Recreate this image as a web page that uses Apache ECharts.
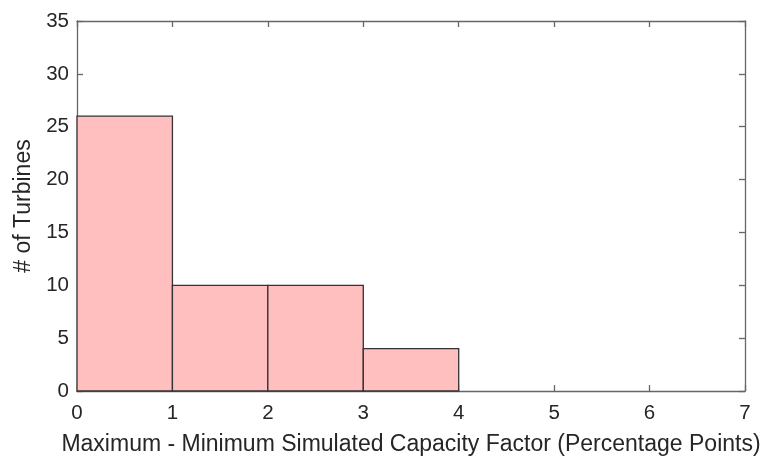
<!DOCTYPE html>
<html><head><meta charset="utf-8">
<script src="https://cdn.jsdelivr.net/npm/echarts@6/dist/echarts.min.js"></script>
<style>html,body{margin:0;padding:0;background:#fff}#c{width:777px;height:469px}</style>
</head><body><div id="c"></div>
<script>
const binStarts = [0, 1, 2, 3];
const binEnds = [1, 2, 3, 4];
const counts = [26, 10, 10, 4];
const xTicks = [0, 1, 2, 3, 4, 5, 6, 7];
const yTicks = [0, 5, 10, 15, 20, 25, 30, 35];

const chart = echarts.init(document.getElementById('c'));
const font = 'Liberation Sans, Arial, sans-serif';
const axisCol = '#666';
const data = counts.map((c, i) => [binStarts[i], binEnds[i], c]);
const baseAxis = {
  axisLine: {show: true, onZero: false, lineStyle: {color: axisCol, width: 1.3}},
  axisTick: {show: true, inside: true, length: 6, lineStyle: {color: axisCol, width: 1.3}},
  splitLine: {show: false}
};
chart.setOption({
  animation: false,
  grid: {left: 77, right: 32, top: 21, bottom: 78, containLabel: false},
  xAxis: [
    Object.assign({}, baseAxis, {type: 'value', min: xTicks[0], max: xTicks[xTicks.length-1], interval: 1,
      position: 'bottom',
      axisLabel: {color: '#262626', fontSize: 20.5, fontFamily: font, margin: 12},
      name: 'Maximum - Minimum Simulated Capacity Factor (Percentage Points)',
      nameLocation: 'middle', nameGap: 42,
      nameTextStyle: {color: '#262626', fontSize: 23, fontFamily: font}}),
    Object.assign({}, baseAxis, {type: 'value', min: 0, max: 7, interval: 1, position: 'top',
      axisLabel: {show: false}})
  ],
  yAxis: [
    Object.assign({}, baseAxis, {type: 'value', min: yTicks[0], max: yTicks[yTicks.length-1], interval: 5,
      position: 'left',
      axisLabel: {color: '#262626', fontSize: 20.5, fontFamily: font, margin: 8},
      name: '# of Turbines', nameLocation: 'middle', nameGap: 38, nameRotate: 90,
      nameTextStyle: {color: '#262626', fontSize: 23, fontFamily: font}}),
    Object.assign({}, baseAxis, {type: 'value', min: 0, max: 35, interval: 5, position: 'right',
      axisLabel: {show: false}})
  ],
  series: [{
    type: 'custom',
    xAxisIndex: 0, yAxisIndex: 0,
    data: data,
    encode: {x: [0, 1], y: 2},
    renderItem: function (params, api) {
      const p0 = api.coord([api.value(0), api.value(2)]);
      const p1 = api.coord([api.value(1), 0]);
      return {
        type: 'rect',
        shape: {x: p0[0], y: p0[1], width: p1[0] - p0[0], height: p1[1] - p0[1]},
        style: {fill: '#ffbfbf', stroke: '#333', lineWidth: 1.3}
      };
    }
  }]
});
</script></body></html>
